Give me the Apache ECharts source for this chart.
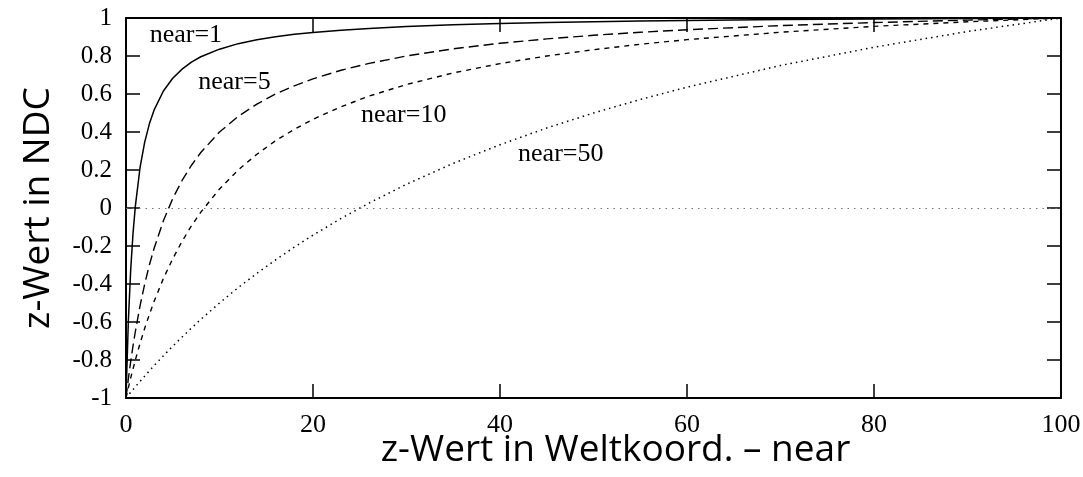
<!DOCTYPE html>
<html>
<head>
<meta charset="utf-8">
<script src="https://cdn.jsdelivr.net/npm/echarts@6/dist/echarts.min.js"></script>
<style>html,body{margin:0;padding:0;background:#fff}#c{width:1083px;height:477px}</style>
</head>
<body>
<div id="c"></div>
<script>
var xs = [0,0.25,0.5,0.75,1,1.5,2,2.5,3,4,5,6,7,8,10,12,14,16,18,20,23,26,30,35,40,45,50,55,60,70,80,90,100];
var near1 = [-1,-0.596,-0.327,-0.134,0.01,0.212,0.347,0.443,0.515,0.616,0.683,0.731,0.768,0.796,0.836,0.865,0.885,0.901,0.914,0.924,0.936,0.945,0.955,0.964,0.971,0.976,0.98,0.984,0.987,0.992,0.995,0.998,1];
var near5 = [-1,-0.9,-0.809,-0.726,-0.65,-0.515,-0.4,-0.3,-0.213,-0.067,0.05,0.145,0.225,0.292,0.4,0.482,0.547,0.6,0.643,0.68,0.725,0.761,0.8,0.838,0.867,0.89,0.909,0.925,0.938,0.96,0.976,0.989,1];
var near10 = [-1,-0.946,-0.895,-0.847,-0.8,-0.713,-0.633,-0.56,-0.492,-0.371,-0.267,-0.175,-0.094,-0.022,0.1,0.2,0.283,0.354,0.414,0.467,0.533,0.589,0.65,0.711,0.76,0.8,0.833,0.862,0.886,0.925,0.956,0.98,1];
var near50 = [-1,-0.985,-0.97,-0.956,-0.941,-0.913,-0.885,-0.857,-0.83,-0.778,-0.727,-0.679,-0.632,-0.586,-0.5,-0.419,-0.344,-0.273,-0.206,-0.143,-0.055,0.026,0.125,0.235,0.333,0.421,0.5,0.571,0.636,0.75,0.846,0.929,1];
var labelNames = ['near=1','near=5','near=10','near=50'];
var labelX = [6.4, 11.6, 29.7, 46.5];
var labelY = [0.91, 0.663, 0.49, 0.284];

function pairs(ys){ return xs.map(function(x,i){ return [x, ys[i]]; }); }

var serif = '"Liberation Serif", "DejaVu Serif", serif';
var sans = '"Open Sans", "Noto Sans", sans-serif';

function xAx(pos, show){
  return {
    type:'value', position:pos, min:0, max:100, interval:20,
    axisLine:{show:true, onZero:false, lineStyle:{color:'#000', width:2}},
    axisTick:{show:true, inside:true, length:14, lineStyle:{color:'#000', width:1.5}},
    axisLabel:{show:show, color:'#000', fontFamily:serif, fontSize:26, margin:14},
    splitLine:{show:false},
    name: show ? 'z-Wert in Weltkoord. \u2013 near' : '',
    nameLocation:'middle', nameGap:34, nameMoveOverlap:false,
    nameTextStyle:{color:'#000', fontFamily:sans, fontSize:37, padding:[0,0,0,44]}
  };
}
function yAx(pos, show){
  return {
    type:'value', position:pos, min:-1, max:1, interval:0.2,
    axisLine:{show:true, onZero:false, lineStyle:{color:'#000', width:2}},
    axisTick:{show:true, inside:true, length:14, lineStyle:{color:'#000', width:1.5}},
    axisLabel:{show:show, color:'#000', fontFamily:serif, fontSize:25, margin:14,
      formatter:function(v){ return String(Math.round(v*10)/10); }},
    splitLine:{show:false},
    name: show ? 'z-Wert in NDC' : '',
    nameLocation:'middle', nameGap:69, nameRotate:90, nameMoveOverlap:false,
    nameTextStyle:{color:'#000', fontFamily:sans, fontSize:37}
  };
}

var chart = echarts.init(document.getElementById('c'), null, {renderer:'canvas'});
var lineBase = {type:'line', showSymbol:false, symbol:'none', smooth:false, xAxisIndex:0, yAxisIndex:0, animation:false};
chart.setOption({
  animation:false,
  grid:{left:126, right:22, top:18, bottom:79, containLabel:false, outerBoundsMode:'none'},
  xAxis:[xAx('bottom', true), xAx('top', false)],
  yAxis:[yAx('left', true), yAx('right', false)],
  series:[
    Object.assign({}, lineBase, {name:'near=1', data:pairs(near1), lineStyle:{color:'#000', width:1.5, type:'solid'},
      markLine:{silent:true, symbol:'none', label:{show:false}, lineStyle:{color:'#777', width:1, type:[1.5,5]}, data:[{yAxis:0}]}}),
    Object.assign({}, lineBase, {name:'near=5', data:pairs(near5), lineStyle:{color:'#000', width:1.4, type:[10,5]}}),
    Object.assign({}, lineBase, {name:'near=10', data:pairs(near10), lineStyle:{color:'#000', width:1.4, type:[5,5]}}),
    Object.assign({}, lineBase, {name:'near=50', data:pairs(near50), lineStyle:{color:'#000', width:1.5, type:[1.5,4]}}),
    {type:'scatter', symbolSize:0, silent:true, animation:false, itemStyle:{opacity:1},
      data:labelNames.map(function(n,i){ return {value:[labelX[i], labelY[i]], name:n}; }),
      label:{show:true, position:'inside', opacity:1, formatter:function(p){ return p.name; }, color:'#000', fontFamily:serif, fontSize:26}}
  ]
});
</script>
</body>
</html>
